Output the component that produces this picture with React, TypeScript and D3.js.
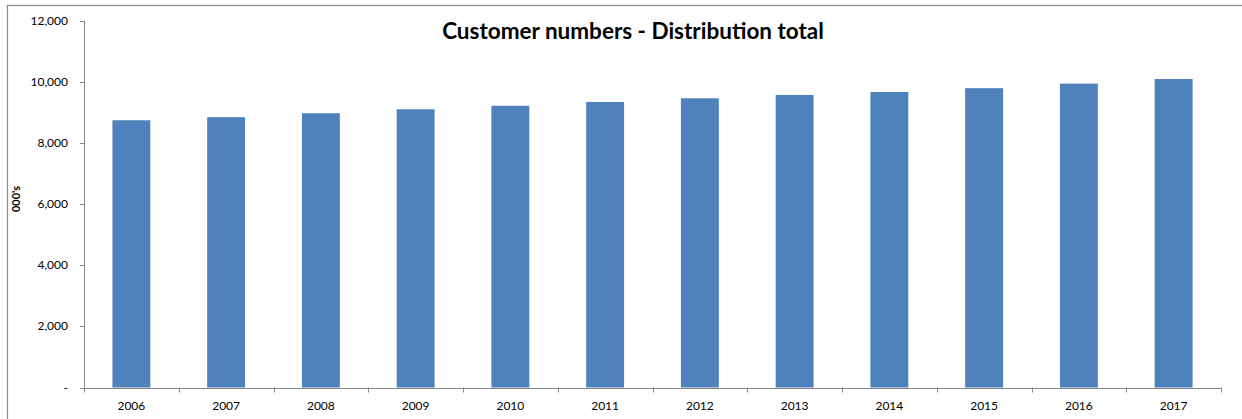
import React from "react";
import * as d3 from "d3";

// customer numbers, thousands
const years = ["2006", "2007", "2008", "2009", "2010", "2011", "2012", "2013", "2014", "2015", "2016", "2017"];
const customers = [8750, 8850, 8980, 9110, 9225, 9350, 9470, 9580, 9675, 9800, 9950, 10100];
const yTicks = [0, 2000, 4000, 6000, 8000, 10000, 12000];

const W = 1242;
const H = 419;
const margin = { top: 21, right: 21, bottom: 31.5, left: 84 };
const axisColor = "#868686";
const font = "Lato, 'Open Sans', sans-serif";

export default function App() {
  const x = d3
    .scaleBand<string>()
    .domain(years)
    .range([margin.left, W - margin.right])
    .paddingInner(0.6)
    .paddingOuter(0.3);

  const y = d3
    .scaleLinear()
    .domain([0, 12000])
    .range([H - margin.bottom, margin.top]);

  const fmt = d3.format(",");
  const step = x.step();
  const x0 = margin.left;
  const x1 = W - margin.right;
  const base = y(0);

  return (
    <svg width={W} height={H} style={{ position: "absolute", left: 0, top: 0, background: "#fff" }}>
      <rect x={7.5} y={5.5} width={W} height={H} fill="#fff" stroke="#8c8c8c" strokeWidth={1.2} />

      <text x={633} y={39} textAnchor="middle" fontFamily={font} fontWeight="bold" fontSize={22.5} fill="#000">
        Customer numbers - Distribution total
      </text>

      {/* bars */}
      {customers.map((v, i) => (
        <rect
          key={years[i]}
          x={x(years[i])}
          y={y(v)}
          width={x.bandwidth()}
          height={base - y(v)}
          fill="#4F81BD"
        />
      ))}

      {/* y axis */}
      <line x1={x0 + 0.5} x2={x0 + 0.5} y1={y(12000)} y2={base} stroke={axisColor} />
      {yTicks.map((t) => (
        <g key={t}>
          <line x1={x0 - 4} x2={x0} y1={Math.round(y(t)) + 0.5} y2={Math.round(y(t)) + 0.5} stroke={axisColor} />
          <text x={x0 - 16} y={y(t) + 4} textAnchor="end" fontFamily={font} fontSize={12} fill="#000">
            {t === 0 ? "-" : fmt(t)}
          </text>
        </g>
      ))}
      <text
        transform={`translate(20,199) rotate(-90)`}
        textAnchor="middle"
        fontFamily={font}
        fontWeight="bold"
        fontSize={11}
        fill="#000"
      >
        000's
      </text>

      {/* x axis */}
      <line x1={x0} x2={x1} y1={Math.round(base) + 0.5} y2={Math.round(base) + 0.5} stroke={axisColor} />
      {d3.range(years.length + 1).map((i) => (
        <line
          key={i}
          x1={Math.round(x0 + i * step) + 0.5}
          x2={Math.round(x0 + i * step) + 0.5}
          y1={base}
          y2={base + 5}
          stroke={axisColor}
        />
      ))}
      {years.map((yr) => (
        <text
          key={yr}
          x={(x(yr) ?? 0) + x.bandwidth() / 2}
          y={base + 22}
          textAnchor="middle"
          fontFamily={font}
          fontSize={12}
          fill="#000"
        >
          {yr}
        </text>
      ))}
    </svg>
  );
}
